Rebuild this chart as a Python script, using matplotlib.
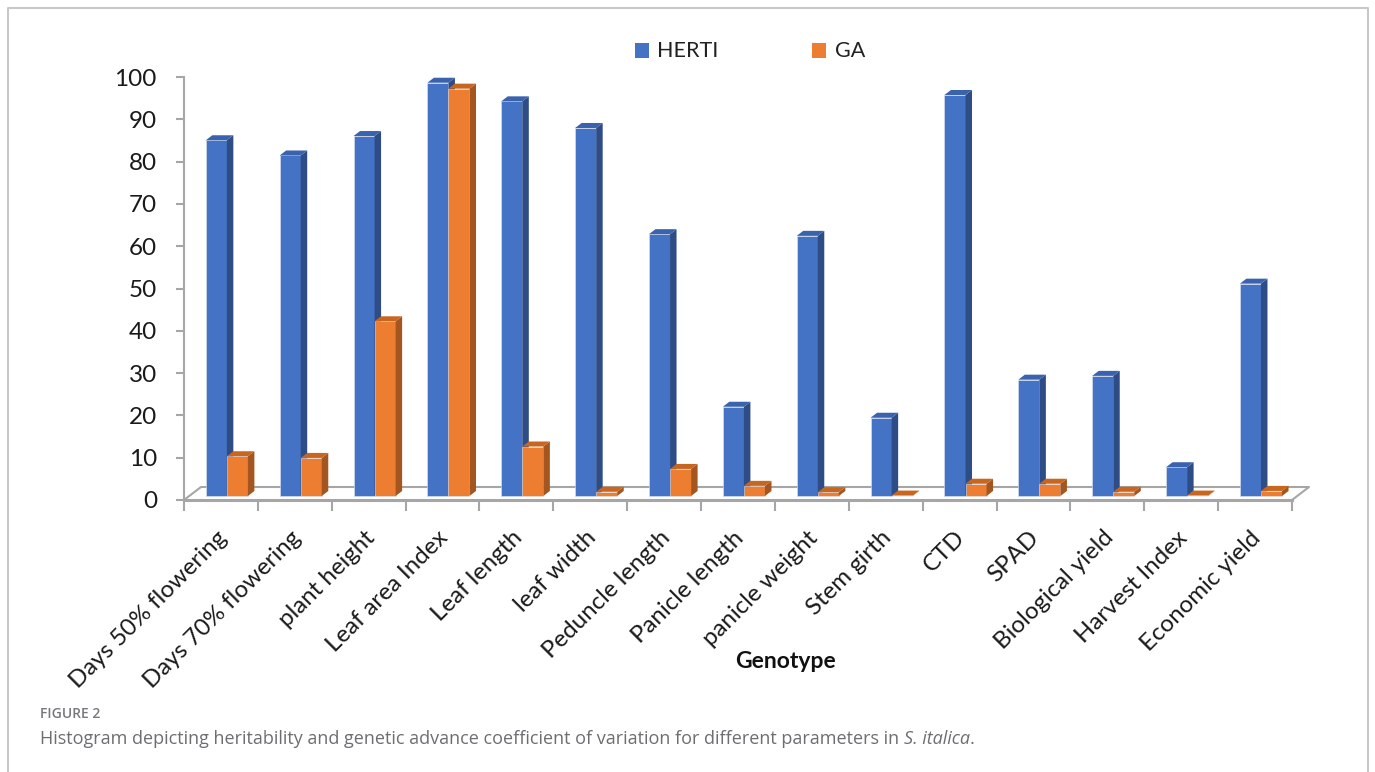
import matplotlib
matplotlib.use("Agg")
import matplotlib.pyplot as plt
from matplotlib.patches import Polygon, Rectangle
from matplotlib.transforms import offset_copy

# trait names and the two series (heritability, genetic advance)
traits = ["Days 50% flowering", "Days 70% flowering", "plant height", "Leaf area Index",
          "Leaf length", "leaf width", "Peduncle length", "Panicle length", "panicle weight",
          "Stem girth", "CTD", "SPAD", "Biological yield", "Harvest Index", "Economic yield"]
herti = [84.1, 80.5, 85.1, 97.7, 93.3, 87.0, 61.9, 21.1, 61.5, 18.5, 94.8, 27.5, 28.4, 6.8, 50.2]
ga = [9.4, 9.0, 41.3, 96.3, 11.7, 1.0, 6.4, 2.4, 0.9, 0.1, 2.9, 2.9, 1.0, 0.1, 1.2]
yticks = list(range(0, 101, 10))

chart_font = "Lato"
cap_font = "Open Sans"

W, H = 1375, 772
fig = plt.figure(figsize=(W / 100, H / 100), dpi=100)

ax = fig.add_axes([184 / W, 272 / H, 1108 / W, 423 / H])
n = len(traits)
ax.set_xlim(-0.5, n - 0.5)
ax.set_ylim(0, 100)
for s in ["top", "right"]:
    ax.spines[s].set_visible(False)
grey = "#a6a6a6"
ax.spines["left"].set_color(grey)
ax.spines["left"].set_linewidth(1.5)
ax.spines["bottom"].set_color(grey)
ax.spines["bottom"].set_linewidth(2.2)
ax.set_yticks(yticks)
ax.set_yticklabels([str(t) for t in yticks], fontfamily=chart_font, fontsize=17.5,
                   color="#1a1a1a")
ax.tick_params(axis="y", length=6, width=1.5, color=grey, pad=13.5)
ax.set_xticks([i - 0.5 for i in range(n + 1)])
ax.set_xticklabels([])
ax.tick_params(axis="x", length=8, width=1.5, color=grey, direction="out")

# pixel -> data conversions for the 3D depth
px_x = 1108 / n
px_y = 423 / 100
fdx, fdy = 17 / px_x, 13 / px_y      # floor depth
bdx, bdy = 6.5 / px_x, 5 / px_y      # bar depth
lift = 4 / px_y                      # bars sit a bit behind the front edge

# floor outline
x0, x1 = -0.5, n - 0.5
ax.plot([x0, x0 + fdx, x1 + fdx, x1], [0, fdy, fdy, 0], color=grey, lw=1.5,
        clip_on=False, zorder=1)

blue = ("#4472C4", "#2E4C85", "#3A62AD")
orange = ("#ED7D31", "#A3561F", "#C8661F")


def bar3d(x, w, v, cols):
    front, side, top = cols
    b = lift
    t = lift + v
    ax.add_patch(Rectangle((x, b), w, v, facecolor=front, edgecolor="#dfe6f2",
                           lw=0.4, clip_on=False, zorder=3))
    ax.add_patch(Polygon([(x + w, b), (x + w + bdx, b + bdy), (x + w + bdx, t + bdy), (x + w, t)],
                         closed=True, facecolor=side, edgecolor="none", clip_on=False, zorder=3))
    ax.add_patch(Polygon([(x, t), (x + bdx, t + bdy), (x + w + bdx, t + bdy), (x + w, t)],
                         closed=True, facecolor=top, edgecolor="none", clip_on=False, zorder=3))


bw = 0.285
for i in range(n):
    bar3d(i - 0.205, bw, herti[i], blue)
    bar3d(i - 0.205 + bw, bw, ga[i], orange)

# category labels
lab_tr = offset_copy(ax.transData, fig=fig, x=-5, y=-27, units="dots")
for i, name in enumerate(traits):
    ax.text(i, 0, name, transform=lab_tr, rotation=45, ha="right", va="top",
            rotation_mode="anchor", fontfamily=chart_font, fontsize=17.3, color="#1a1a1a")

fig.text(785 / W, 1 - 662 / H, "Genotype", ha="center", va="center",
         fontfamily=chart_font, fontweight="bold", fontsize=16.5, color="#111111")

# legend
for sx, tx, col, name in [(635, 657, blue[0], "HERTI"), (812, 835, orange[0], "GA")]:
    fig.add_artist(Rectangle((sx / W, 1 - 58 / H), 14 / W, 15 / H, transform=fig.transFigure,
                             facecolor=col, edgecolor="none"))
    fig.text(tx / W, 1 - 51 / H, name, ha="left", va="center", fontfamily=chart_font,
             fontsize=15.5, color="#222222")

# outer frame
fx0, fx1, fy0 = 8 / W, 1368 / W, 1 - 8 / H
frame = dict(color="#c8c8c8", lw=1.5, transform=fig.transFigure)
fig.add_artist(plt.Line2D([fx0, fx0, fx1, fx1], [-0.01, fy0, fy0, -0.01], **frame))

# caption
cap_col = "#6d6e71"
fig.text(40 / W, 1 - 714 / H, "FIGURE 2", ha="left", va="center", fontfamily=cap_font,
         fontsize=10, fontweight="semibold", color="#77787b")
t1 = fig.text(40 / W, 1 - 739 / H,
              "Histogram depicting heritability and genetic advance coefficient of variation "
              "for different parameters in ", ha="left", va="center", fontfamily=cap_font,
              fontsize=13, color=cap_col)
fig.canvas.draw()
bb = t1.get_window_extent()
t2 = fig.text(bb.x1 / W, 1 - 739 / H, "S. italica", ha="left", va="center",
              fontfamily=cap_font, fontsize=13, style="italic", color=cap_col)
fig.canvas.draw()
bb2 = t2.get_window_extent()
fig.text(bb2.x1 / W, 1 - 739 / H, ".", ha="left", va="center", fontfamily=cap_font,
         fontsize=13, color=cap_col)

fig.savefig("out.png", dpi=100)
